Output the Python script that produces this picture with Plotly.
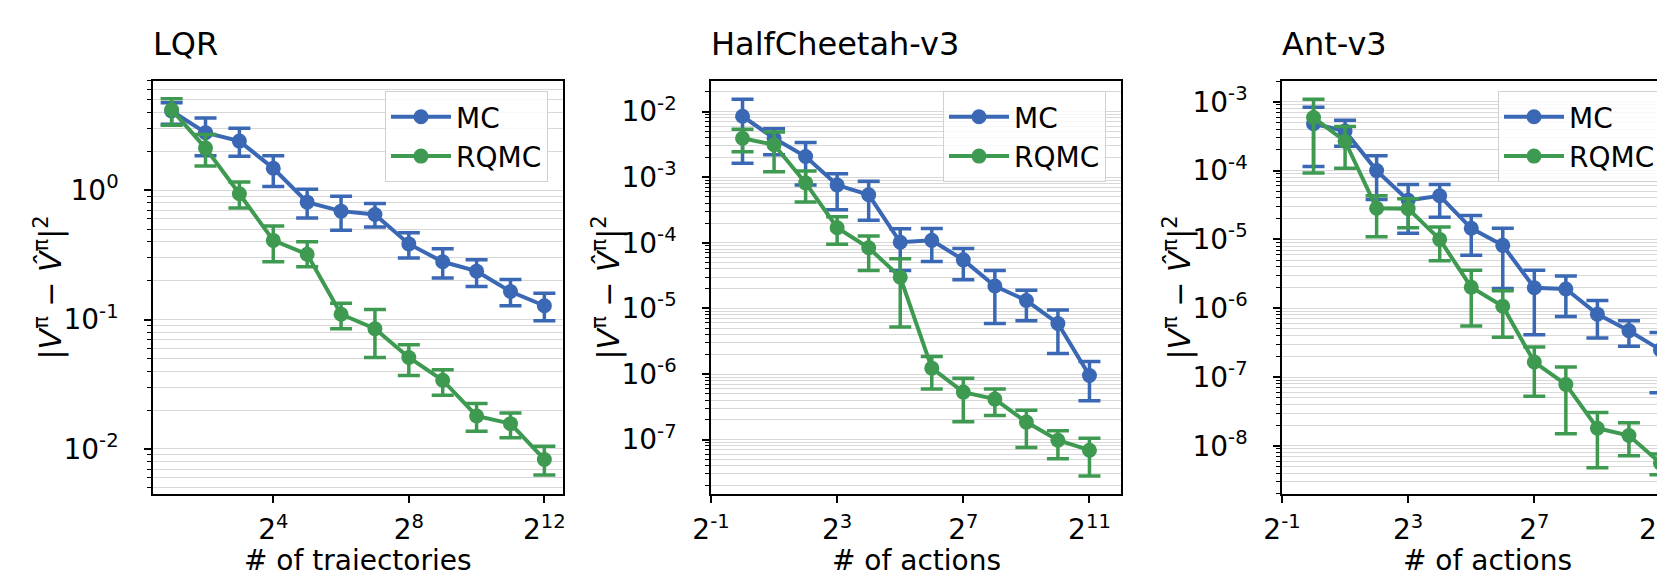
import plotly.graph_objects as go

W, H = 1665, 570

# ---------------- data ----------------
n_traj = [2, 4, 8, 16, 32, 64, 128, 256, 512, 1024, 2048, 4096]
n_act = [1, 2, 4, 8, 16, 32, 64, 128, 256, 512, 1024, 2048]

lqr_mc = [4.1, 2.79, 2.40, 1.48, 0.81, 0.69, 0.65, 0.385, 0.28, 0.237, 0.165, 0.128]
lqr_mc_hi = [4.75, 3.62, 3.02, 1.85, 1.02, 0.90, 0.79, 0.47, 0.354, 0.29, 0.204, 0.16]
lqr_mc_lo = [3.24, 1.85, 1.83, 1.07, 0.61, 0.49, 0.52, 0.30, 0.21, 0.18, 0.128, 0.098]
lqr_rq = [4.2, 2.12, 0.94, 0.41, 0.32, 0.11, 0.085, 0.051, 0.034, 0.018, 0.0157, 0.0083]
lqr_rq_hi = [5.1, 2.70, 1.16, 0.53, 0.40, 0.134, 0.12, 0.064, 0.041, 0.0225, 0.019, 0.0105]
lqr_rq_lo = [3.18, 1.54, 0.73, 0.28, 0.256, 0.085, 0.051, 0.037, 0.026, 0.0137, 0.0122, 0.0063]

hc_mc = [8.5e-3, 3.93e-3, 2.07e-3, 7.6e-4, 5.4e-4, 1.02e-4, 1.09e-4, 5.5e-5, 2.2e-5, 1.32e-5, 5.9e-6, 9.5e-7]
hc_mc_hi = [1.55e-2, 5.5e-3, 3.37e-3, 1.13e-3, 8.7e-4, 1.64e-4, 1.66e-4, 8.2e-5, 3.8e-5, 1.9e-5, 9.5e-6, 1.55e-6]
hc_mc_lo = [1.64e-3, 2.2e-3, 7.6e-4, 3.2e-4, 2.2e-4, 3.8e-5, 5.2e-5, 2.73e-5, 5.9e-6, 6.5e-6, 2.06e-6, 3.9e-7]
hc_rq = [3.93e-3, 3.12e-3, 8.2e-4, 1.7e-4, 8.4e-5, 3.0e-5, 1.23e-6, 5.3e-7, 4.15e-7, 1.85e-7, 9.8e-8, 6.9e-8]
hc_rq_hi = [5.4e-3, 4.9e-3, 1.24e-3, 2.5e-4, 1.27e-4, 5.7e-5, 1.85e-6, 8.6e-7, 5.9e-7, 2.8e-7, 1.36e-7, 1.05e-7]
hc_rq_lo = [2.45e-3, 1.21e-3, 4.2e-4, 9.5e-5, 3.8e-5, 5.2e-6, 5.9e-7, 1.87e-7, 2.33e-7, 7.6e-8, 5.1e-8, 2.8e-8]

ant_mc = [4.8e-4, 3.77e-4, 1.0e-4, 3.7e-5, 4.3e-5, 1.45e-5, 8.2e-6, 1.98e-6, 1.9e-6, 8.2e-7, 4.7e-7, 2.48e-7]
ant_mc_hi = [8.3e-4, 5.4e-4, 1.64e-4, 6.3e-5, 6.3e-5, 2.22e-5, 1.45e-5, 3.55e-6, 2.95e-6, 1.29e-6, 6.6e-7, 4.45e-7]
ant_mc_lo = [1.15e-4, 2.25e-4, 3.8e-5, 1.23e-5, 2.09e-5, 5.9e-6, 1.93e-6, 4.1e-7, 7.6e-7, 3.7e-7, 2.8e-7, 5.9e-8]
ant_rq = [5.9e-4, 2.67e-4, 2.83e-5, 2.8e-5, 1.0e-5, 2.02e-6, 1.07e-6, 1.65e-7, 7.8e-8, 1.8e-8, 1.41e-8, 5.6e-9]
ant_rq_hi = [1.09e-3, 4.36e-4, 4.3e-5, 3.9e-5, 1.51e-5, 3.55e-6, 1.79e-6, 2.74e-7, 1.4e-7, 3.04e-8, 2.16e-8, 7.6e-9]
ant_rq_lo = [9.2e-5, 1.08e-4, 1.09e-5, 1.48e-5, 4.9e-6, 5.5e-7, 3.8e-7, 5.25e-8, 1.5e-8, 4.8e-9, 7.2e-9, 3.8e-9]

titles = ["LQR", "HalfCheetah-v3", "Ant-v3"]
xlabels = ["# of trajectories", "# of actions", "# of actions"]
ylabel = "|<i>V</i><sup>π</sup> − <i>V̂</i><sup>π</sup>|<sup>2</sup>"

lqr_xticks = [16, 256, 4096]
lqr_xtext = ["2<sup>4</sup>", "2<sup>8</sup>", "2<sup>12</sup>"]
act_xticks = [0.5, 8, 128, 2048]
act_xtext = ["2<sup>-1</sup>", "2<sup>3</sup>", "2<sup>7</sup>", "2<sup>11</sup>"]

lqr_yexp = [-2, -1, 0]
hc_yexp = [-7, -6, -5, -4, -3, -2]
ant_yexp = [-8, -7, -6, -5, -4, -3]

# ---------------- style ----------------
BLUE = "#3a68b4"
GREEN = "#3e9a50"
FONT = "DejaVu Sans"
FS = 28
TFS = 32
GRID = "#d8d8d8"
LOG2 = 0.30102999566

def px_x(p):
    return p / W

def px_y(p):
    return 1 - p / H

panels = [
    dict(x=n_traj, mc=(lqr_mc, lqr_mc_lo, lqr_mc_hi), rq=(lqr_rq, lqr_rq_lo, lqr_rq_hi),
         left=145, right=555, xr=[0.45 * LOG2, 12.55 * LOG2], yr=[-2.348, 0.845],
         xt=lqr_xticks, xtt=lqr_xtext, ye=lqr_yexp, mirror_y=True, leg_x=540, leg_anchor="right"),
    dict(x=n_act, mc=(hc_mc, hc_mc_lo, hc_mc_hi), rq=(hc_rq, hc_rq_lo, hc_rq_hi),
         left=703, right=1113, xr=[-1 * LOG2, 12 * LOG2], yr=[-7.829, -1.533],
         xt=act_xticks, xtt=act_xtext, ye=hc_yexp, mirror_y=True, leg_x=1098, leg_anchor="right"),
    dict(x=n_act, mc=(ant_mc, ant_mc_lo, ant_mc_hi), rq=(ant_rq, ant_rq_lo, ant_rq_hi),
         left=1274, right=1665, xr=[-1 * LOG2, (-1 + 391 / 31.54) * LOG2], yr=[-8.70, -2.698],
         xt=act_xticks, xtt=act_xtext, ye=ant_yexp, mirror_y=False, leg_x=1490, leg_anchor="left"),
]

AX_TOP, AX_BOT = 73, 486

fig = go.Figure()
layout = dict(
    width=W, height=H,
    margin=dict(l=0, r=0, t=0, b=0, autoexpand=False),
    paper_bgcolor="white", plot_bgcolor="white",
    font=dict(family=FONT, size=FS, color="black"),
    annotations=[],
)

for i, p in enumerate(panels):
    k = "" if i == 0 else str(i + 1)
    xa, ya = "x" + k, "y" + k
    leg = "legend" + k
    for name, (vals, lo, hi), col in [("MC", p["mc"], BLUE), ("RQMC", p["rq"], GREEN)]:
        fig.add_trace(go.Scatter(
            x=p["x"], y=vals, name=name, xaxis=xa, yaxis=ya, legend=leg,
            mode="lines+markers",
            line=dict(color=col, width=4),
            marker=dict(color=col, size=15),
            error_y=dict(type="data", symmetric=False,
                         array=[h - v for h, v in zip(hi, vals)],
                         arrayminus=[v - l for v, l in zip(vals, lo)],
                         color=col, thickness=3.5, width=11),
        ))
    ymaj = [10.0 ** e for e in p["ye"]]
    ytxt = ["10<sup>%d</sup>" % e for e in p["ye"]]
    lo_e = int(p["yr"][0]) - 2
    hi_e = int(p["yr"][1]) + 2
    yminor = [m * 10.0 ** e for e in range(lo_e, hi_e) for m in range(2, 10)]
    layout["xaxis" + k] = dict(
        type="log", domain=[px_x(p["left"]), px_x(p["right"])], range=p["xr"],
        anchor=ya, showgrid=False, zeroline=False,
        showline=True, linecolor="black", linewidth=1.5, mirror=True,
        ticks="outside", ticklen=7, tickwidth=1.5, tickcolor="black",
        tickmode="array", tickvals=p["xt"], ticktext=p["xtt"],
        tickfont=dict(size=FS, family=FONT, color="black"),
        ticklabelstandoff=3, ticklabeloverflow="allow",
    )
    layout["yaxis" + k] = dict(
        type="log", domain=[px_y(AX_BOT), px_y(AX_TOP)], range=p["yr"],
        anchor=xa, showgrid=True, gridcolor=GRID, gridwidth=1.2, zeroline=False,
        showline=True, linecolor="black", linewidth=1.5, mirror=p["mirror_y"],
        ticks="outside", ticklen=7, tickwidth=1.5, tickcolor="black",
        tickmode="array", tickvals=ymaj, ticktext=ytxt,
        tickfont=dict(size=FS, family=FONT, color="black"),
        ticklabelstandoff=20, ticklabeloverflow="allow",
        minor=dict(tickmode="array", tickvals=yminor, ticks="outside", ticklen=4,
                   tickwidth=1, tickcolor="black", showgrid=True, gridcolor=GRID, gridwidth=1.2),
    )
    layout[leg] = dict(
        x=px_x(p["leg_x"]), xanchor=p["leg_anchor"], y=px_y(83), yanchor="top",
        bgcolor="rgba(255,255,255,0.85)", bordercolor="#d0d0d0", borderwidth=1,
        font=dict(size=FS, family=FONT, color="black"), itemwidth=60,
    )
    cx = (p["left"] + (p["right"] if i < 2 else p["left"] + 410)) / 2
    layout["annotations"] += [
        dict(text=titles[i], x=px_x(p["left"] - 2), y=px_y(36), xref="paper", yref="paper",
             xanchor="left", yanchor="middle", showarrow=False,
             font=dict(size=TFS, family=FONT, color="black")),
        dict(text=xlabels[i], x=px_x(cx), y=px_y(552), xref="paper", yref="paper",
             xanchor="center", yanchor="middle", showarrow=False,
             font=dict(size=FS, family=FONT, color="black")),
        dict(text=ylabel,
             x=px_x(p["left"] - 104), y=px_y((AX_TOP + AX_BOT) / 2),
             xref="paper", yref="paper", xanchor="center", yanchor="middle",
             textangle=-90, showarrow=False,
             font=dict(size=30, family=FONT, color="black")),
    ]

fig.update_layout(**layout)
fig.write_html("out.html")
